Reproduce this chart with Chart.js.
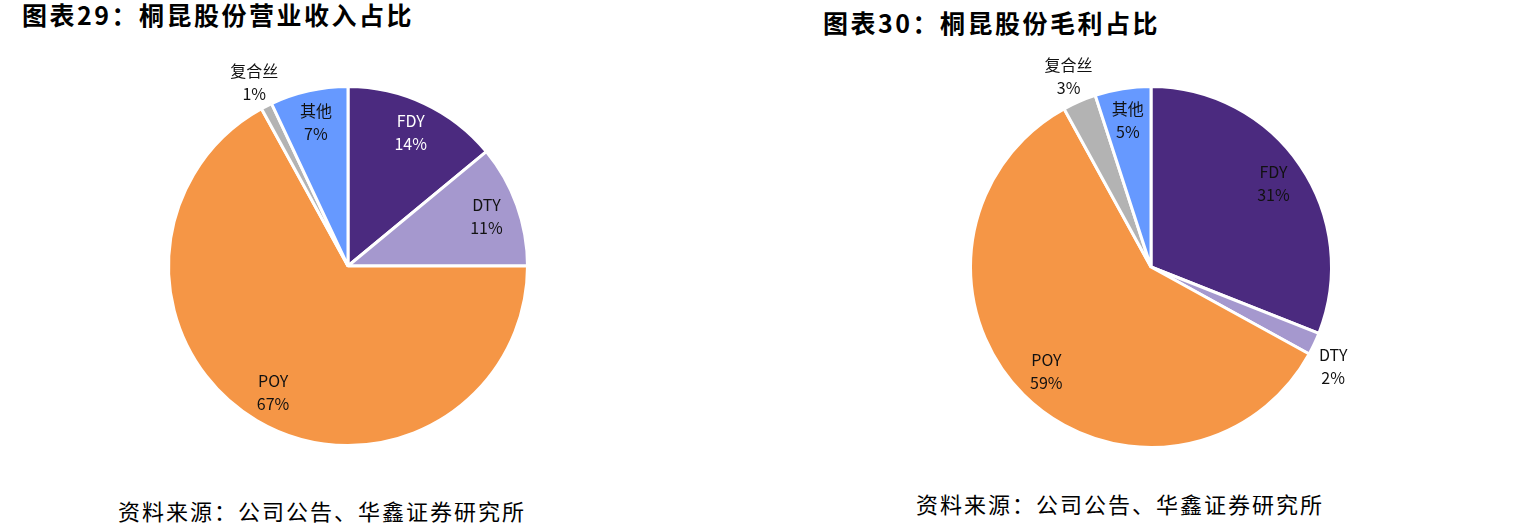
<!DOCTYPE html>
<html lang="zh">
<head>
  <meta charset="UTF-8">
  <title>桐昆股份营业收入与毛利占比</title>
  <script src="https://cdn.jsdelivr.net/npm/chart.js"></script>
  <style>
    body { margin: 0; width: 1528px; height: 525px; background: #fff; position: relative; overflow: hidden;
           font-family: "Noto Sans CJK SC", sans-serif; }
    .title { position: absolute; font-size: 25px; font-weight: bold; color: #000; letter-spacing: 2.5px; line-height: 32px; }
    .source { position: absolute; font-size: 22px; color: #000; letter-spacing: 2px; line-height: 30px; }
    .box { position: absolute; width: 440px; height: 440px; }
  </style>
</head>
<body>
  <div class="title" style="left:22px; top:-2px;">图表29：桐昆股份营业收入占比</div>
  <div class="title" style="left:823px; top:6px;">图表30：桐昆股份毛利占比</div>
  <div class="box" style="left:128px; top:46px;"><canvas id="revChart" width="440" height="440"></canvas></div>
  <div class="box" style="left:931px; top:47px;"><canvas id="gpChart" width="440" height="440"></canvas></div>
  <div class="source" style="left:118px; top:495px;">资料来源：公司公告、华鑫证券研究所</div>
  <div class="source" style="left:916px; top:488px;">资料来源：公司公告、华鑫证券研究所</div>
  <script>
    const categories = ['FDY', 'DTY', 'POY', '复合丝', '其他'];
    const revenueShare = [14, 11, 67, 1, 7];
    const grossProfitShare = [31, 2, 59, 3, 5];
    const colors = ['#4B2A7F', '#A598CE', '#F59646', '#B3B3B3', '#6699FF'];

    // labels drawn by hand: inside the slice, or outside when the slice is small
    const sliceLabels = {
      id: 'sliceLabels',
      afterDraw(chart, args, opts) {
        const ctx = chart.ctx;
        const meta = chart.getDatasetMeta(0);
        const data = chart.data.datasets[0].data;
        ctx.save();
        ctx.textAlign = 'center';
        ctx.textBaseline = 'middle';
        meta.data.forEach((arc, i) => {
          const mid = (arc.startAngle + arc.endAngle) / 2 + (data[i] < 4 && i === 1 ? 0.06 : 0);
          const outside = data[i] < 4;
          const r = arc.outerRadius * (outside ? 1.15 : 0.82);
          const x = arc.x + Math.cos(mid) * r;
          const y = arc.y + Math.sin(mid) * r;
          ctx.fillStyle = opts.colors[i];
          ctx.font = '16px "Liberation Sans Narrow", "Noto Sans CJK SC", sans-serif';
          ctx.fillText(categories[i], x, y - 11.5);
          ctx.fillText(data[i] + '%', x, y + 11.5);
        });
        ctx.restore();
      }
    };

    function makePie(id, values, pad, textColors) {
      return new Chart(document.getElementById(id), {
        type: 'pie',
        data: {
          labels: categories,
          datasets: [{ data: values, backgroundColor: colors, borderColor: '#fff', borderWidth: 3 }]
        },
        options: {
          responsive: false,
          animation: false,
          layout: { padding: pad },
          plugins: {
            legend: { display: false },
            tooltip: { enabled: false },
            sliceLabels: { colors: textColors }
          }
        },
        plugins: [sliceLabels]
      });
    }

    makePie('revChart', revenueShare, 39, ['#fff', '#111', '#111', '#111', '#111']);
    makePie('gpChart', grossProfitShare, 38, ['#111', '#111', '#111', '#111', '#111']);
  </script>
</body>
</html>
